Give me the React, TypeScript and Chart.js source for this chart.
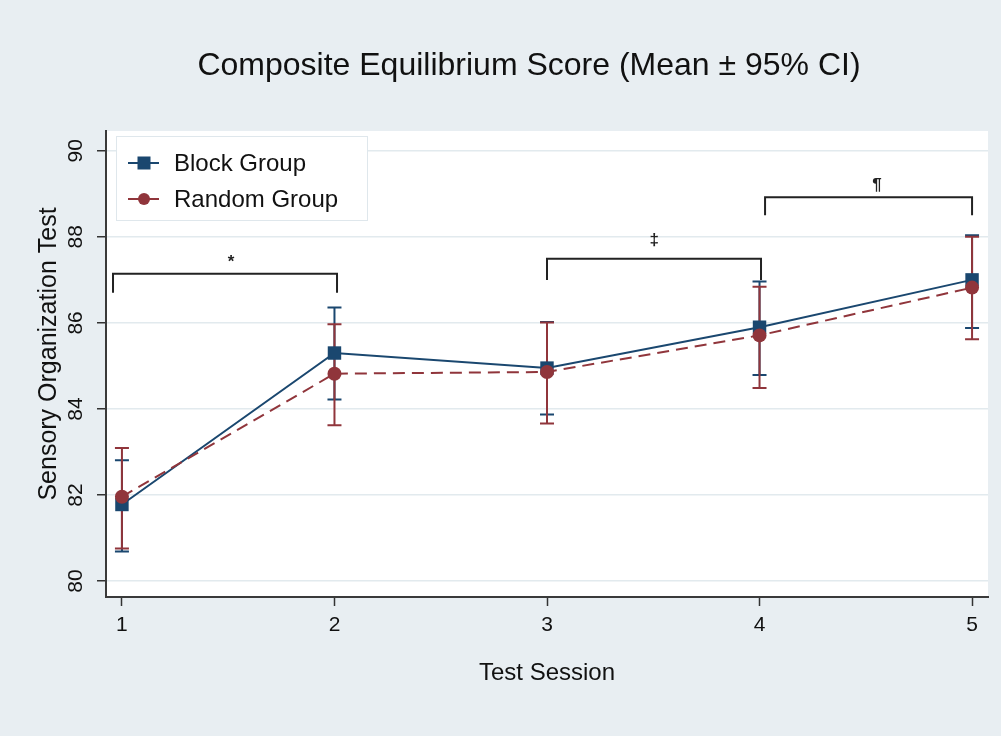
import React, { useEffect, useRef } from "react";
import { Chart, registerables } from "chart.js";

Chart.register(...registerables);

const sessions = [1, 2, 3, 4, 5];
const blockMean = [81.78, 85.3, 84.95, 85.9, 87.0];
const blockLow = [80.69, 84.22, 83.87, 84.79, 85.88];
const blockHigh = [82.81, 86.36, 86.02, 86.96, 88.04];
const randomMean = [81.96, 84.82, 84.86, 85.71, 86.82];
const randomLow = [80.76, 83.62, 83.66, 84.49, 85.62];
const randomHigh = [83.09, 85.97, 86.01, 86.84, 88.0];
const yTickValues = [80, 82, 84, 86, 88, 90];
const xTickValues = [1, 2, 3, 4, 5];
const seriesNames = ["Block Group", "Random Group"];

const bracketStart = [0.958, 3.0, 4.026];
const bracketEnd = [2.012, 4.007, 5.0];
const bracketTop = [87.14, 87.49, 88.92];
const bracketLegBottom = [86.7, 87.0, 88.5];
const bracketSymbols = ["*", "‡", "¶"];
const bracketSymbolX = [1.513, 3.504, 4.553];
const bracketSymbolY = [87.4, 87.93, 89.19];

const titleText = "Composite Equilibrium Score (Mean ± 95% CI)";
const xTitle = "Test Session";
const yTitle = "Sensory Organization Test";

const BLUE = "#1a476f";
const RED = "#90353b";
const BG = "#e8eef2";
const FONT = "'Liberation Sans', Arial, Helvetica, sans-serif";
const TEXT = "#111111";

export default function App() {
  const ref = useRef<HTMLCanvasElement | null>(null);

  useEffect(() => {
    const canvas = ref.current;
    if (!canvas) return;

    const decor = {
      id: "decor",
      beforeDraw(chart: any) {
        const { ctx, chartArea } = chart;
        ctx.save();
        ctx.fillStyle = BG;
        ctx.fillRect(0, 0, chart.width, chart.height);
        ctx.fillStyle = "#ffffff";
        ctx.fillRect(chartArea.left, chartArea.top, chartArea.right - chartArea.left, chartArea.bottom - chartArea.top);
        ctx.restore();
      },
      beforeDatasetsDraw(chart: any) {
        const { ctx } = chart;
        const xs = chart.scales.x;
        const ys = chart.scales.y;
        const drawBars = (lo: number[], hi: number[], color: string) => {
          ctx.save();
          ctx.strokeStyle = color;
          ctx.lineWidth = 2;
          for (let i = 0; i < sessions.length; i++) {
            const px = xs.getPixelForValue(sessions[i]);
            const p1 = ys.getPixelForValue(lo[i]);
            const p2 = ys.getPixelForValue(hi[i]);
            ctx.beginPath();
            ctx.moveTo(px, p1);
            ctx.lineTo(px, p2);
            ctx.moveTo(px - 7, p1);
            ctx.lineTo(px + 7, p1);
            ctx.moveTo(px - 7, p2);
            ctx.lineTo(px + 7, p2);
            ctx.stroke();
          }
          ctx.restore();
        };
        drawBars(blockLow, blockHigh, BLUE);
        drawBars(randomLow, randomHigh, RED);
      },
      afterDraw(chart: any) {
        const { ctx, chartArea } = chart;
        const xs = chart.scales.x;
        const ys = chart.scales.y;
        ctx.save();
        // brackets
        ctx.strokeStyle = "#222";
        ctx.lineWidth = 2;
        for (let i = 0; i < bracketStart.length; i++) {
          const x1 = xs.getPixelForValue(bracketStart[i]);
          const x2 = xs.getPixelForValue(bracketEnd[i]);
          const yt = ys.getPixelForValue(bracketTop[i]);
          const yb = ys.getPixelForValue(bracketLegBottom[i]);
          ctx.beginPath();
          ctx.moveTo(x1, yb);
          ctx.lineTo(x1, yt);
          ctx.lineTo(x2, yt);
          ctx.lineTo(x2, yb);
          ctx.stroke();
          ctx.fillStyle = "#222";
          ctx.font = `bold 17px ${FONT}`;
          ctx.textAlign = "center";
          ctx.textBaseline = "middle";
          ctx.fillText(bracketSymbols[i], xs.getPixelForValue(bracketSymbolX[i]), ys.getPixelForValue(bracketSymbolY[i]));
        }
        // y tick labels rotated
        ctx.fillStyle = TEXT;
        ctx.font = `21px ${FONT}`;
        ctx.textAlign = "center";
        ctx.textBaseline = "middle";
        for (const v of yTickValues) {
          const py = ys.getPixelForValue(v);
          ctx.save();
          ctx.translate(76, py);
          ctx.rotate(-Math.PI / 2);
          ctx.fillText(String(v), 0, 0);
          ctx.restore();
        }
        // y title
        ctx.font = `25px ${FONT}`;
        ctx.save();
        ctx.translate(49, (chartArea.top + chartArea.bottom) / 2 - 10);
        ctx.rotate(-Math.PI / 2);
        ctx.fillText(yTitle, 0, 0);
        ctx.restore();
        // x title
        ctx.font = `24px ${FONT}`;
        ctx.fillText(xTitle, (chartArea.left + chartArea.right) / 2, 673);
        // main title
        ctx.font = `32px ${FONT}`;
        ctx.fillText(titleText, 529, 66);
        // legend
        const lx = 116, ly = 136, lw = 251, lh = 84;
        ctx.fillStyle = "#ffffff";
        ctx.fillRect(lx, ly, lw, lh);
        ctx.strokeStyle = "#dfe7ec";
        ctx.lineWidth = 1;
        ctx.strokeRect(lx + 0.5, ly + 0.5, lw, lh);
        const rows = [163, 199];
        const colors = [BLUE, RED];
        for (let i = 0; i < 2; i++) {
          const cy = rows[i];
          ctx.strokeStyle = colors[i];
          ctx.lineWidth = 2;
          ctx.beginPath();
          ctx.moveTo(128, cy);
          ctx.lineTo(159, cy);
          ctx.stroke();
          ctx.fillStyle = colors[i];
          if (i === 0) {
            ctx.fillRect(144 - 6.5, cy - 6.5, 13, 13);
          } else {
            ctx.beginPath();
            ctx.arc(144, cy, 6, 0, Math.PI * 2);
            ctx.fill();
          }
          ctx.fillStyle = TEXT;
          ctx.font = `24px ${FONT}`;
          ctx.textAlign = "left";
          ctx.textBaseline = "middle";
          ctx.fillText(seriesNames[i], 174, cy + 1);
        }
        ctx.restore();
      },
    };

    const chart = new Chart(canvas, {
      type: "line",
      data: {
        datasets: [
          {
            label: seriesNames[0],
            data: sessions.map((s, i) => ({ x: s, y: blockMean[i] })),
            borderColor: BLUE,
            backgroundColor: BLUE,
            borderWidth: 2,
            pointStyle: "rect",
            pointRadius: 9.5,
            pointBorderWidth: 0,
            order: 2,
          },
          {
            label: seriesNames[1],
            data: sessions.map((s, i) => ({ x: s, y: randomMean[i] })),
            borderColor: RED,
            backgroundColor: RED,
            borderWidth: 2,
            borderDash: [12, 7],
            pointStyle: "circle",
            pointRadius: 7,
            pointBorderWidth: 0,
            order: 1,
          },
        ],
      },
      options: {
        animation: false,
        responsive: false,
        layout: { padding: { left: 0, top: 131, right: 13, bottom: 0 } },
        plugins: {
          legend: { display: false },
          title: { display: false },
          tooltip: { enabled: false },
        },
        scales: {
          x: {
            type: "linear",
            min: 0.925,
            max: 5.075,
            afterBuildTicks: (s: any) => {
              s.ticks = xTickValues.map((v) => ({ value: v }));
            },
            afterFit: (s: any) => {
              s.height = 139;
            },
            grid: {
              drawOnChartArea: false,
              drawTicks: true,
              tickLength: 9,
              tickColor: "#333",
              tickWidth: 1.5,
            },
            border: { display: true, color: "#3a3a3a", width: 2 },
            ticks: {
              color: TEXT,
              font: { size: 21, family: FONT },
              padding: 7,
              maxRotation: 0,
              autoSkip: false,
              callback: (v: any) => String(v),
            },
          },
          y: {
            type: "linear",
            min: 79.63,
            max: 90.46,
            afterBuildTicks: (s: any) => {
              s.ticks = yTickValues.map((v) => ({ value: v }));
            },
            afterFit: (s: any) => {
              s.width = 106;
            },
            grid: {
              color: "#e2eaee",
              lineWidth: 1.5,
              drawTicks: true,
              tickLength: 9,
              tickColor: "#333",
              tickWidth: 1.5,
            },
            border: { display: true, color: "#3a3a3a", width: 2 },
            ticks: { display: false },
          },
        },
      },
      plugins: [decor],
    });

    return () => chart.destroy();
  }, []);

  return (
    <div style={{ position: "absolute", left: 0, top: 0, width: 1001, height: 736 }}>
      <canvas ref={ref} width={1001} height={736} style={{ display: "block" }} />
    </div>
  );
}
